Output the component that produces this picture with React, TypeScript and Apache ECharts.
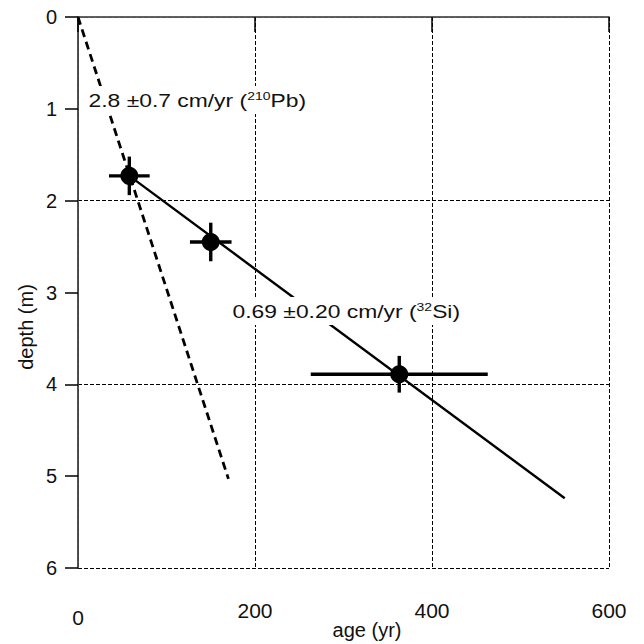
import React, { useEffect, useRef } from "react";
import * as echarts from "echarts";

// measured points (age in yr, depth in m) with error bars
const ages = [58, 150, 363];
const depths = [1.73, 2.45, 3.89];
const ageErr = [23, 23.5, 100];
const depthErr = [0.21, 0.21, 0.2];

// fitted lines
const siFitAges = [58, 550];
const siFitDepths = [1.73, 5.24];
const pbFitAges = [0, 170];
const pbFitDepths = [0, 5.03];

const xTicks = [0, 200, 400, 600];
const yTicks = [0, 1, 2, 3, 4, 5, 6];

const FONT = "Liberation Sans, Arial, Helvetica, sans-serif";

export default function App() {
  const ref = useRef<HTMLDivElement>(null);
  useEffect(() => {
    if (!ref.current) return;
    const chart = echarts.init(ref.current, undefined, { renderer: "svg" });
    const pts = ages.map((a, i) => [a, depths[i], ageErr[i], depthErr[i]]);
    const option: any = {
      animation: false,
      backgroundColor: "#fff",
      textStyle: { fontFamily: FONT },
      grid: { left: 78, right: 35, top: 17, bottom: 76 },
      xAxis: [
        {
          type: "value",
          position: "bottom",
          min: xTicks[0],
          max: xTicks[xTicks.length - 1],
          interval: 200,
          axisLine: { show: true, lineStyle: { color: "#222", width: 1.5 } },
          axisTick: { show: true, inside: false, length: 15, lineStyle: { color: "#000", width: 1.5 } },
          axisLabel: {
            margin: 32,
            color: "#111",
            fontFamily: FONT,
            fontSize: 21,
            formatter: (v: number) => (v === 0 ? "{z|0}" : "{a|" + v + "}"),
            rich: {
              a: { fontSize: 21, fontFamily: FONT, color: "#111" },
              z: { fontSize: 21, fontFamily: FONT, color: "#111", padding: [7, 0, 0, 0] },
            },
          },
          splitLine: { show: false },
        },
        {
          type: "value",
          position: "top",
          min: xTicks[0],
          max: xTicks[xTicks.length - 1],
          interval: 200,
          axisLine: { show: true, lineStyle: { color: "#666", width: 1.5 } },
          axisTick: { show: false },
          axisLabel: { show: false },
          splitLine: { show: true, lineStyle: { color: "#000", width: 1, type: [4, 2] } },
        },
      ],
      yAxis: [
        {
          type: "value",
          position: "left",
          inverse: true,
          min: yTicks[0],
          max: yTicks[yTicks.length - 1],
          interval: 1,
          axisLine: { show: true, lineStyle: { color: "#111", width: 1.5 } },
          axisTick: { show: true, inside: false, length: 13, lineStyle: { color: "#000", width: 1.5 } },
          axisLabel: {
            margin: 21,
            color: "#111",
            fontFamily: FONT,
            fontSize: 20,
            padding: [8, 0, 0, 0],
          },
          splitLine: { show: false },
        },
        {
          type: "value",
          position: "right",
          inverse: true,
          min: yTicks[0],
          max: yTicks[yTicks.length - 1],
          interval: 2,
          axisLine: { show: true, lineStyle: { color: "#555", width: 1.5 } },
          axisTick: { show: false },
          axisLabel: { show: false },
          splitLine: { show: true, lineStyle: { color: "#000", width: 1, type: [4, 2] } },
        },
      ],
      graphic: [
        {
          type: "text",
          x: 367,
          y: 630,
          z: 10,
          style: {
            text: "age (yr)",
            fontSize: 20,
            fontFamily: FONT,
            fill: "#111",
            align: "center",
            verticalAlign: "middle",
          },
        },
        {
          type: "text",
          x: 26,
          y: 327,
          z: 10,
          rotation: Math.PI / 2,
          style: {
            text: "depth (m)",
            fontSize: 20,
            fontFamily: FONT,
            fill: "#111",
            align: "center",
            verticalAlign: "middle",
          },
        },
        {
          type: "text",
          x: 86,
          y: 100,
          z: 10,
          scaleX: 1.27,
          style: {
            text: "2.8 ±0.7 cm/yr ({s|210}Pb)",
            fontSize: 18,
            fontFamily: FONT,
            fill: "#111",
            align: "left",
            verticalAlign: "middle",
            backgroundColor: "#fff",
            padding: [5, 2, 5, 2],
            rich: {
              s: { fontSize: 11, fontFamily: FONT, fill: "#111", verticalAlign: "top", padding: [0, 0, 4, 0] },
            },
          },
        },
        {
          type: "text",
          x: 230,
          y: 311,
          z: 10,
          scaleX: 1.27,
          style: {
            text: "0.69 ±0.20 cm/yr ({s|32}Si)",
            fontSize: 18,
            fontFamily: FONT,
            fill: "#111",
            align: "left",
            verticalAlign: "middle",
            backgroundColor: "#fff",
            padding: [5, 2, 5, 2],
            rich: {
              s: { fontSize: 11, fontFamily: FONT, fill: "#111", verticalAlign: "top", padding: [0, 0, 4, 0] },
            },
          },
        },
      ],
      series: [
        {
          type: "line",
          xAxisIndex: 0,
          yAxisIndex: 0,
          data: pbFitAges.map((a, i) => [a, pbFitDepths[i]]),
          symbol: "none",
          lineStyle: { color: "#000", width: 2.8, type: [8, 5] },
          z: 2,
        },
        {
          type: "line",
          xAxisIndex: 0,
          yAxisIndex: 0,
          data: siFitAges.map((a, i) => [a, siFitDepths[i]]),
          symbol: "none",
          lineStyle: { color: "#000", width: 2.4 },
          z: 2,
        },
        {
          type: "custom",
          xAxisIndex: 0,
          yAxisIndex: 0,
          data: pts,
          encode: { x: 0, y: 1 },
          z: 3,
          renderItem: (params: any, api: any) => {
            const x = api.value(0);
            const y = api.value(1);
            const ex = api.value(2);
            const ey = api.value(3);
            const l = api.coord([x - ex, y]);
            const r = api.coord([x + ex, y]);
            const t = api.coord([x, y - ey]);
            const b = api.coord([x, y + ey]);
            const st = { stroke: "#000", lineWidth: 3.4 };
            return {
              type: "group",
              children: [
                { type: "line", shape: { x1: l[0], y1: l[1], x2: r[0], y2: r[1] }, style: st },
                { type: "line", shape: { x1: t[0], y1: t[1], x2: b[0], y2: b[1] }, style: st },
              ],
            };
          },
        },
        {
          type: "scatter",
          xAxisIndex: 0,
          yAxisIndex: 0,
          data: ages.map((a, i) => [a, depths[i]]),
          symbol: "circle",
          symbolSize: 18,
          itemStyle: { color: "#000", opacity: 1 },
          z: 4,
        },
      ],
    };
    chart.setOption(option);
    return () => chart.dispose();
  }, []);
  return <div ref={ref} style={{ width: 644, height: 644, position: "absolute", left: 0, top: 0 }} />;
}
